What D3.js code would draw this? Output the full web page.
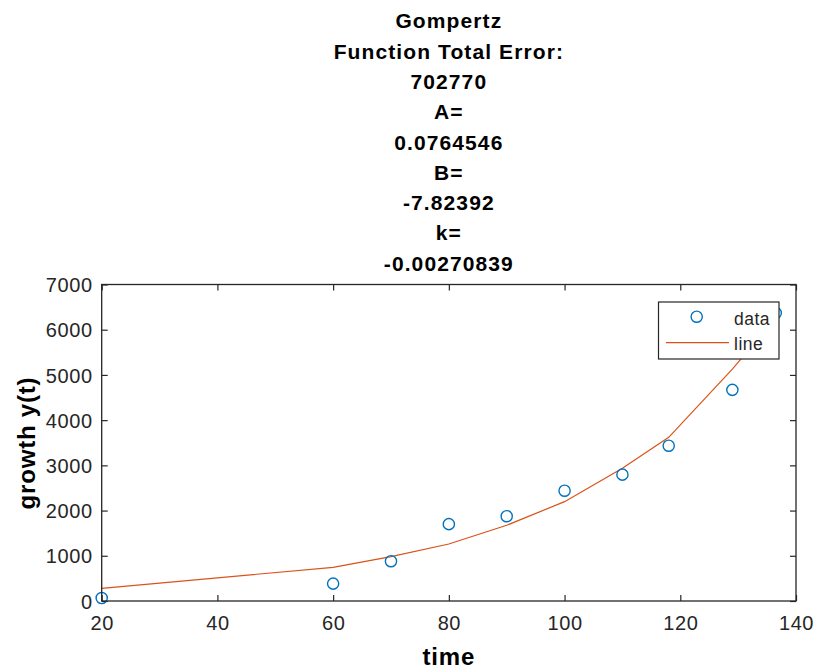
<!DOCTYPE html>
<html>
<head>
<meta charset="utf-8">
<script src="https://cdn.jsdelivr.net/npm/d3@7"></script>
<style>
  html, body { margin: 0; padding: 0; background: #fff; }
  svg { display: block; font-family: Arial, "Liberation Sans", Helvetica, sans-serif; }
</style>
</head>
<body>
<svg id="chart" width="816" height="671"></svg>
<script>
// Observed growth measurements
const time = [20, 60, 70, 80, 90, 100, 110, 118, 129, 136.5];
const growth = [65, 385, 880, 1700, 1875, 2440, 2795, 3435, 4670, 6370];
// Gompertz model evaluated at the same time points
const fitted = [281, 745, 980, 1260, 1675, 2197, 2935, 3620, 5130, 6250];

const xTicks = [20, 40, 60, 80, 100, 120, 140];
const yTicks = [0, 1000, 2000, 3000, 4000, 5000, 6000, 7000];

const titleLines = [
  "Gompertz",
  "Function Total Error:",
  "702770",
  "A=",
  "0.0764546",
  "B=",
  "-7.82392",
  "k=",
  "-0.00270839"
];
const legendLabels = ["data", "line"];

const BLUE = "#0072BD", ORANGE = "#D95319", AXIS = "#262626";

const svg = d3.select("#chart");
const plot = { left: 101.7, right: 796, top: 284.5, bottom: 601 };

const x = d3.scaleLinear().domain([20, 140]).range([plot.left, plot.right]);
const y = d3.scaleLinear().domain([0, 7000]).range([plot.bottom, plot.top]);

// Title block
const title = svg.append("g")
  .attr("font-weight", "bold")
  .attr("font-size", 21)
  .attr("letter-spacing", 1.1)
  .attr("text-anchor", "middle")
  .attr("fill", "#000");
titleLines.forEach((t, i) => {
  title.append("text")
    .attr("x", (plot.left + plot.right) / 2)
    .attr("y", 28.3 + i * 30.3)
    .text(t);
});

// Axes: labelled bottom/left, mirrored unlabelled ticks on top/right
const tickLen = 6;
const xAxis = svg.append("g")
  .attr("transform", `translate(0,${plot.bottom})`)
  .call(d3.axisBottom(x).tickValues(xTicks).tickSize(-tickLen).tickPadding(15).tickFormat(d3.format("d")));
const yAxis = svg.append("g")
  .attr("transform", `translate(${plot.left},0)`)
  .call(d3.axisLeft(y).tickValues(yTicks).tickSize(-tickLen).tickPadding(9).tickFormat(d3.format("d")));
const xTop = svg.append("g")
  .attr("transform", `translate(0,${plot.top})`)
  .call(d3.axisTop(x).tickValues(xTicks).tickSize(-tickLen).tickFormat(""));
const yRight = svg.append("g")
  .attr("transform", `translate(${plot.right},0)`)
  .call(d3.axisRight(y).tickValues(yTicks).tickSize(-tickLen).tickFormat(""));

[xAxis, yAxis, xTop, yRight].forEach(g => {
  g.select(".domain").remove();
  g.selectAll(".tick line").attr("stroke", AXIS).attr("stroke-width", 1.2);
  g.selectAll(".tick text")
    .attr("fill", AXIS)
    .attr("font-size", 20)
    .attr("letter-spacing", 0.6)
    .attr("font-family", "Arial, 'Liberation Sans', sans-serif");
});
yAxis.selectAll(".tick text").attr("dy", "0.36em");

// Fitted curve
const line = d3.line().x((d, i) => x(time[i])).y(d => y(d));
svg.append("path")
  .datum(fitted)
  .attr("d", line)
  .attr("fill", "none")
  .attr("stroke", ORANGE)
  .attr("stroke-width", 1.2);

// Data markers
svg.append("g").selectAll("circle")
  .data(growth)
  .join("circle")
  .attr("cx", (d, i) => x(time[i]))
  .attr("cy", d => y(d))
  .attr("r", 5.6)
  .attr("fill", "none")
  .attr("stroke", BLUE)
  .attr("stroke-width", 1.4);

// Box around plot area
svg.append("rect")
  .attr("x", plot.left).attr("y", plot.top)
  .attr("width", plot.right - plot.left).attr("height", plot.bottom - plot.top)
  .attr("fill", "none").attr("stroke", AXIS).attr("stroke-width", 1.3);

// Axis labels
svg.append("text")
  .attr("x", (plot.left + plot.right) / 2)
  .attr("y", 665)
  .attr("text-anchor", "middle")
  .attr("font-weight", "bold")
  .attr("font-size", 24)
  .attr("letter-spacing", 0.8)
  .attr("fill", "#000")
  .text("time");
svg.append("text")
  .attr("transform", `translate(35,${443}) rotate(-90)`)
  .attr("text-anchor", "middle")
  .attr("font-weight", "bold")
  .attr("font-size", 24)
  .attr("letter-spacing", 0.8)
  .attr("fill", "#000")
  .text("growth y(t)");

// Legend
const lg = svg.append("g");
lg.append("rect")
  .attr("x", 658.5).attr("y", 302)
  .attr("width", 120.5).attr("height", 57)
  .attr("fill", "#fff").attr("stroke", AXIS).attr("stroke-width", 1.2);
lg.append("circle")
  .attr("cx", 696.7).attr("cy", 316.7).attr("r", 5.6)
  .attr("fill", "none").attr("stroke", BLUE).attr("stroke-width", 1.4);
lg.append("line")
  .attr("x1", 666).attr("x2", 729).attr("y1", 342.7).attr("y2", 342.7)
  .attr("stroke", ORANGE).attr("stroke-width", 1.2);
legendLabels.forEach((t, i) => {
  lg.append("text")
    .attr("x", 734).attr("y", 325 + i * 25)
    .attr("font-size", 17.5)
    .attr("letter-spacing", 0.5)
    .attr("fill", AXIS)
    .text(t);
});
</script>
</body>
</html>
